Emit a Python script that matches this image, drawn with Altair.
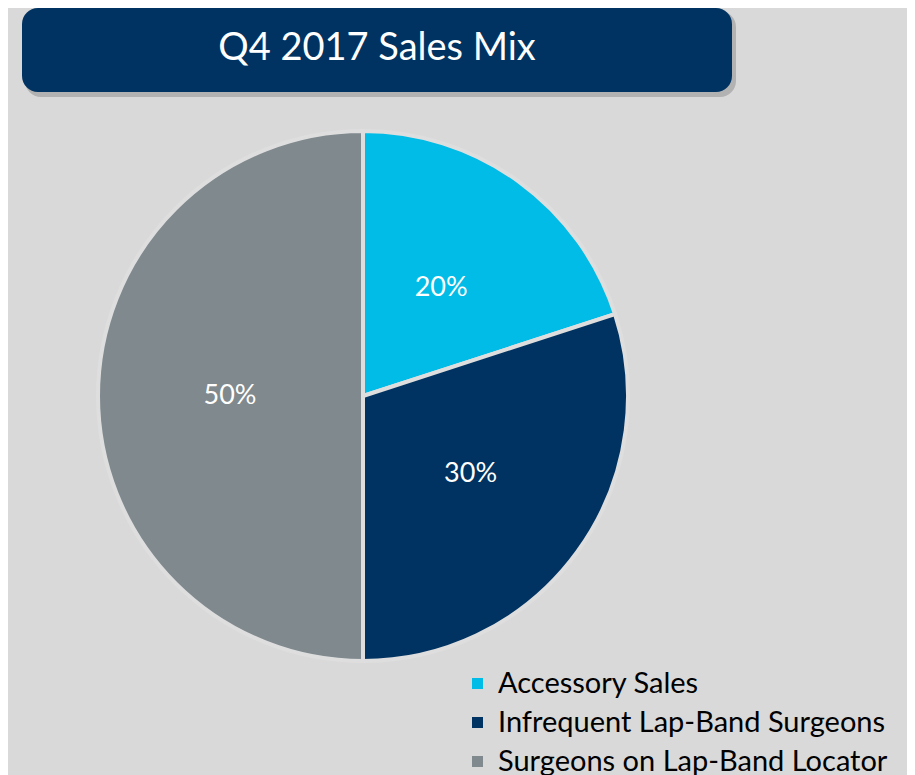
import altair as alt
import pandas as pd

# ---- data ----
categories = ["Accessory Sales", "Infrequent Lap-Band Surgeons", "Surgeons on Lap-Band Locator"]
shares = [20, 30, 50]
share_labels = ["20%", "30%", "50%"]
slice_order = [0, 1, 2]
colors = ["#00BCE6", "#003361", "#7F898E"]
title_text = ["Q4 2017 Sales Mix"]

df = pd.DataFrame({"category": categories, "share": shares,
                   "label": share_labels, "order": slice_order})
tdf = pd.DataFrame({"t": title_text})

W, H = 899, 767
CX, CY, R = 355, 388, 265
FONT = "Lato"

shadow = alt.Chart(tdf).mark_rect(cornerRadius=16, color="#000000", opacity=0.18).encode(
    x=alt.value(17), x2=alt.value(728), y=alt.value(3), y2=alt.value(89))
box = alt.Chart(tdf).mark_rect(cornerRadius=16, color="#003361").encode(
    x=alt.value(14), x2=alt.value(724), y=alt.value(0), y2=alt.value(84))
title = alt.Chart(tdf).mark_text(fontSize=38, color="white", font=FONT,
                                 align="center", baseline="middle").encode(
    x=alt.value(369), y=alt.value(41), text="t:N")

pie = alt.Chart(df).mark_arc(radius=R, stroke="#dedede", strokeWidth=4).encode(
    theta=alt.Theta("share:Q", stack=True),
    color=alt.Color("category:N", scale=alt.Scale(domain=categories, range=colors),
                    legend=alt.Legend(orient="none", legendX=455, legendY=661, title=None,
                                      symbolType="square", symbolSize=121,
                                      symbolStrokeWidth=0, labelFontSize=29,
                                      labelFont=FONT, labelColor="black",
                                      rowPadding=9, labelOffset=6, labelLimit=600)),
    order=alt.Order("order:Q"),
    x=alt.value(CX), y=alt.value(CY))

labels = alt.Chart(df).mark_text(radius=133, fontSize=27, color="white", font=FONT).encode(
    theta=alt.Theta("share:Q", stack=True),
    order=alt.Order("order:Q"),
    text="label:N",
    x=alt.value(CX), y=alt.value(CY))

chart = alt.layer(shadow, box, title, pie, labels).properties(
    width=W, height=H, autosize=alt.AutoSizeParams(type="none"), padding=0
).configure(background="#d9d9d9").configure_view(stroke=None)

chart.save("out.html", embed_options={"renderer": "svg", "actions": False})
